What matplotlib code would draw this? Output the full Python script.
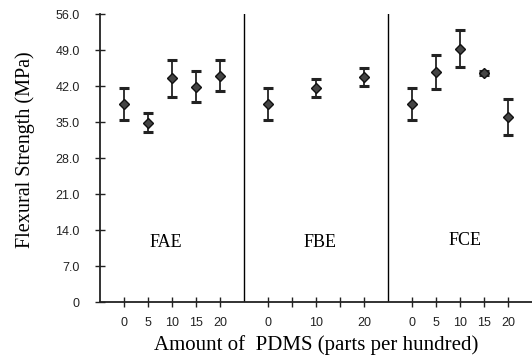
import matplotlib
matplotlib.use("Agg")
import matplotlib.pyplot as plt

# Flexural strength vs PDMS content for three epoxy systems
groups = ["FAE", "FBE", "FCE"]
pdms_labels = ["0", "5", "10", "15", "20"]

fae_mean = [38.6, 34.9, 43.5, 41.9, 44.0]
fae_err = [3.1, 1.9, 3.6, 3.0, 3.0]

fbe_levels = [0, 2, 4]          # index into pdms_labels: 0, 10, 20 phr
fbe_mean = [38.6, 41.7, 43.7]
fbe_err = [3.1, 1.75, 1.75]

fce_mean = [38.6, 44.7, 49.3, 44.5, 35.9]
fce_err = [3.1, 3.3, 3.65, 0.4, 3.5]

y_ticks = [0, 7, 14, 21, 28, 35, 42, 49, 56]
y_ticklabels = ["0", "7.0", "14.0", "21.0", "28.0", "35.0", "42.0", "49.0", "56.0"]

fig = plt.figure(figsize=(5.32, 3.63), dpi=100)
ax = fig.add_axes([0.188, 0.168, 0.812, 0.793])

# each group takes 6 slots on the x axis, dividers at 6 and 12
offsets = [0, 6, 12]
series = [
    (list(range(5)), fae_mean, fae_err),
    (fbe_levels, fbe_mean, fbe_err),
    (list(range(5)), fce_mean, fce_err),
]
for off, (idx, mean, err) in zip(offsets, series):
    xs = [off + 1 + i for i in idx]
    ax.errorbar(xs, mean, yerr=err, fmt="D", color="#222222", ecolor="#222222",
                markerfacecolor="#444444", markeredgecolor="#111111",
                markersize=5, elinewidth=1.3, capsize=3.5, capthick=2.2)

for d in offsets[1:]:
    ax.plot([d, d], [0, 56], color="black", lw=1.0)

ticks, labels = [], []
for off in offsets:
    for i in range(5):
        ticks.append(off + 1 + i)
        if off == 6 and i in (1, 3):
            labels.append("")
        else:
            labels.append(pdms_labels[i])

ax.set_xlim(0, 18)
ax.set_ylim(0, 56)
ax.set_xticks(ticks)
ax.set_xticklabels(labels)
ax.set_yticks(y_ticks)
ax.set_yticklabels(y_ticklabels)

for lab in ax.get_xticklabels() + ax.get_yticklabels():
    lab.set_family("Liberation Sans")
    lab.set_fontsize(9)
    lab.set_color("#222222")

ax.tick_params(axis="both", direction="inout", length=7, width=1.0, color="#222222")
ax.tick_params(axis="y", pad=11)
ax.tick_params(axis="x", pad=7)

for s in ["top", "right"]:
    ax.spines[s].set_visible(False)
for s in ["left", "bottom"]:
    ax.spines[s].set_linewidth(1.3)
    ax.spines[s].set_color("#222222")

label_x = [2.75, 9.15, 15.2]
label_y = [11.5, 11.5, 12.0]
for g, lx, ly in zip(groups, label_x, label_y):
    ax.text(lx, ly, g, ha="center", va="center", family="Liberation Serif", fontsize=13)

ax.set_xlabel("Amount of  PDMS (parts per hundred)", family="Liberation Serif",
              fontsize=15, labelpad=5)
ax.set_ylabel("Flexural Strength (MPa)", family="Liberation Serif", fontsize=14.5,
              labelpad=6)
ax.yaxis.set_label_coords(-0.15, 0.53)

fig.savefig("out.png", dpi=100)
